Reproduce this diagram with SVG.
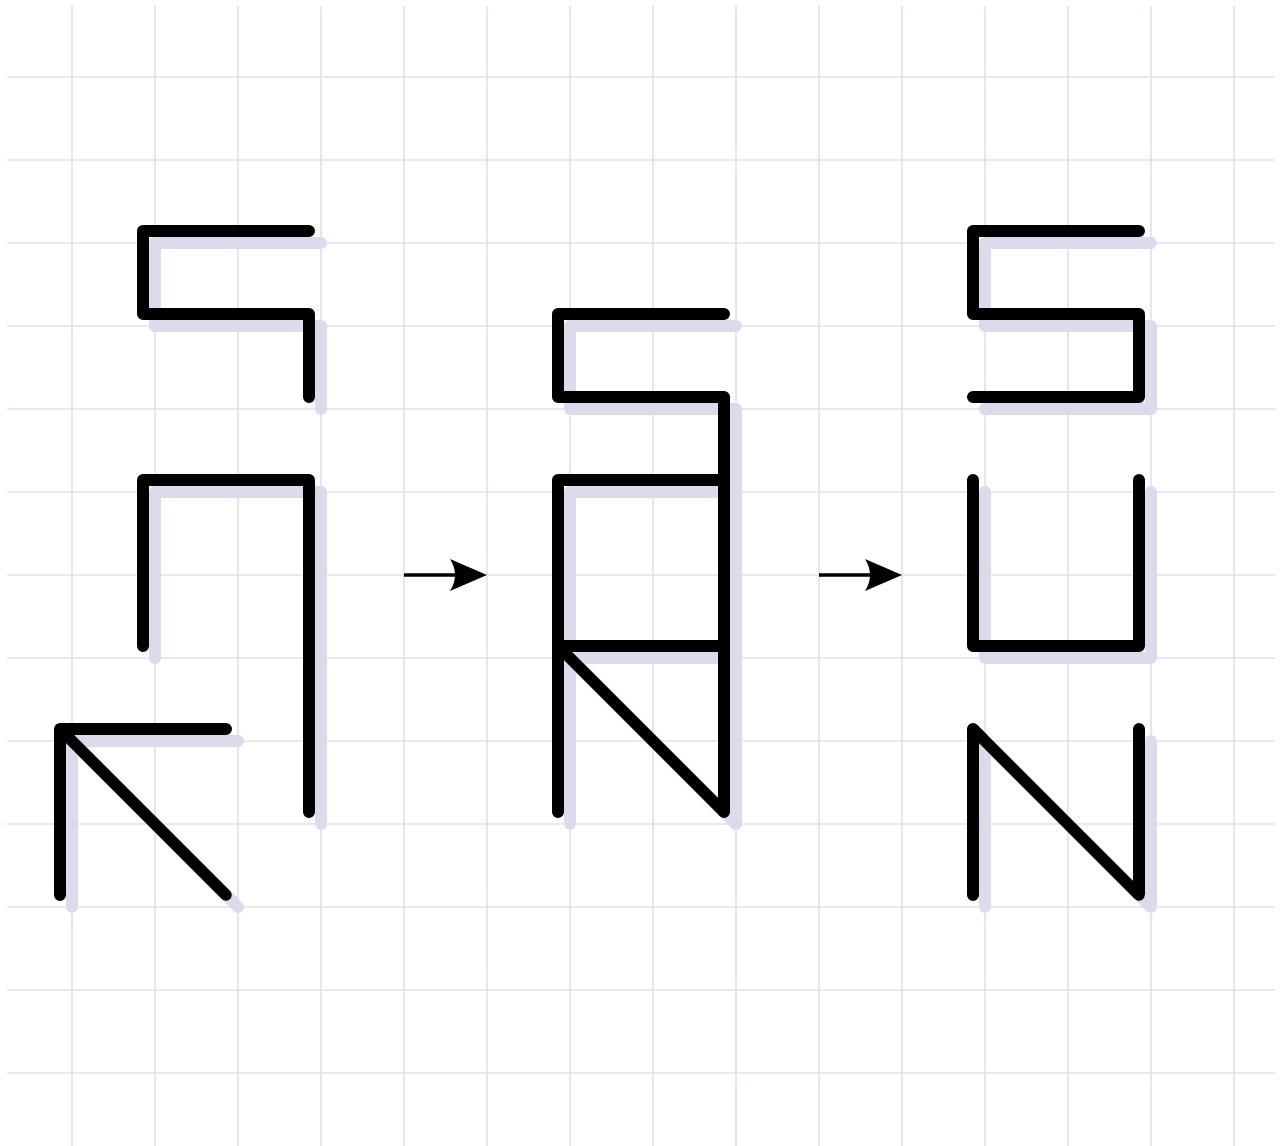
<svg xmlns="http://www.w3.org/2000/svg" width="1283" height="1146" viewBox="0 0 1283 1146">
  <style>
    .grid line { stroke: #e1dff0; stroke-width: 1.6; }
    .stroke { fill: none; stroke: #000; stroke-width: 12; stroke-linecap: round; stroke-linejoin: round; }
    .conn { stroke: #000; stroke-width: 3.5; fill: none; }
  </style>
  <defs>
    <filter id="shadow" filterUnits="userSpaceOnUse" x="0" y="0" width="1283" height="1146">
      <feFlood flood-color="#dcdaeb" result="c"/>
      <feComposite in="c" in2="SourceAlpha" operator="in" result="s"/>
      <feOffset in="s" dx="12" dy="12" result="o"/>
      <feMerge>
        <feMergeNode in="o"/>
        <feMergeNode in="SourceGraphic"/>
      </feMerge>
    </filter>
    <marker id="arrow" markerUnits="userSpaceOnUse" markerWidth="40" markerHeight="34" refX="5" refY="16" orient="auto">
      <path d="M0,0 L37,16 L0,32 Q10,16 0,0 Z" fill="#000"/>
    </marker>
  </defs>
  <rect width="1283" height="1146" fill="#fff"/>
  <g class="grid" id="grid">
    <line x1="72" y1="6" x2="72" y2="1146"/>
    <line x1="155" y1="6" x2="155" y2="1146"/>
    <line x1="238" y1="6" x2="238" y2="1146"/>
    <line x1="321" y1="6" x2="321" y2="1146"/>
    <line x1="404" y1="6" x2="404" y2="1146"/>
    <line x1="487" y1="6" x2="487" y2="1146"/>
    <line x1="570" y1="6" x2="570" y2="1146"/>
    <line x1="653" y1="6" x2="653" y2="1146"/>
    <line x1="736" y1="6" x2="736" y2="1146"/>
    <line x1="819" y1="6" x2="819" y2="1146"/>
    <line x1="902" y1="6" x2="902" y2="1146"/>
    <line x1="985" y1="6" x2="985" y2="1146"/>
    <line x1="1068" y1="6" x2="1068" y2="1146"/>
    <line x1="1151" y1="6" x2="1151" y2="1146"/>
    <line x1="1234" y1="6" x2="1234" y2="1146"/>
    <line x1="7" y1="77" x2="1275" y2="77"/>
    <line x1="7" y1="160" x2="1275" y2="160"/>
    <line x1="7" y1="243" x2="1275" y2="243"/>
    <line x1="7" y1="326" x2="1275" y2="326"/>
    <line x1="7" y1="409" x2="1275" y2="409"/>
    <line x1="7" y1="492" x2="1275" y2="492"/>
    <line x1="7" y1="575" x2="1275" y2="575"/>
    <line x1="7" y1="658" x2="1275" y2="658"/>
    <line x1="7" y1="741" x2="1275" y2="741"/>
    <line x1="7" y1="824" x2="1275" y2="824"/>
    <line x1="7" y1="907" x2="1275" y2="907"/>
    <line x1="7" y1="990" x2="1275" y2="990"/>
    <line x1="7" y1="1073" x2="1275" y2="1073"/>
  </g>
  <g id="shapes" filter="url(#shadow)">
    <g id="panel-left">
      <g id="left-top"><path class="stroke" d="M309,231 H143 V314 H309 V397"/></g>
      <g id="left-middle"><path class="stroke" d="M143,646 V480 H309 V812"/></g>
      <g id="left-bottom"><path class="stroke" d="M60,895 V729 H226 M60,729 L226,895"/></g>
    </g>
    <g id="panel-middle">
      <g id="mid-top"><path class="stroke" d="M724,314 H558 V397 H724 V480"/></g>
      <g id="mid-middle"><path class="stroke" d="M558,646 V480 H724 V812"/></g>
      <g id="mid-bottom"><path class="stroke" d="M558,812 V646 H724 M558,646 L724,812"/></g>
    </g>
    <g id="panel-right">
      <g id="letter-S"><path class="stroke" d="M1139,231 H973 V314 H1139 V397 H973"/></g>
      <g id="letter-U"><path class="stroke" d="M973,480 V646 H1139 V480"/></g>
      <g id="letter-N"><path class="stroke" d="M973,895 V729 L1139,895 V729"/></g>
    </g>
  </g>
  <g id="connectors">
    <line class="conn" x1="404" y1="575" x2="455" y2="575" marker-end="url(#arrow)"/>
    <line class="conn" x1="819" y1="575" x2="870" y2="575" marker-end="url(#arrow)"/>
  </g>
</svg>
